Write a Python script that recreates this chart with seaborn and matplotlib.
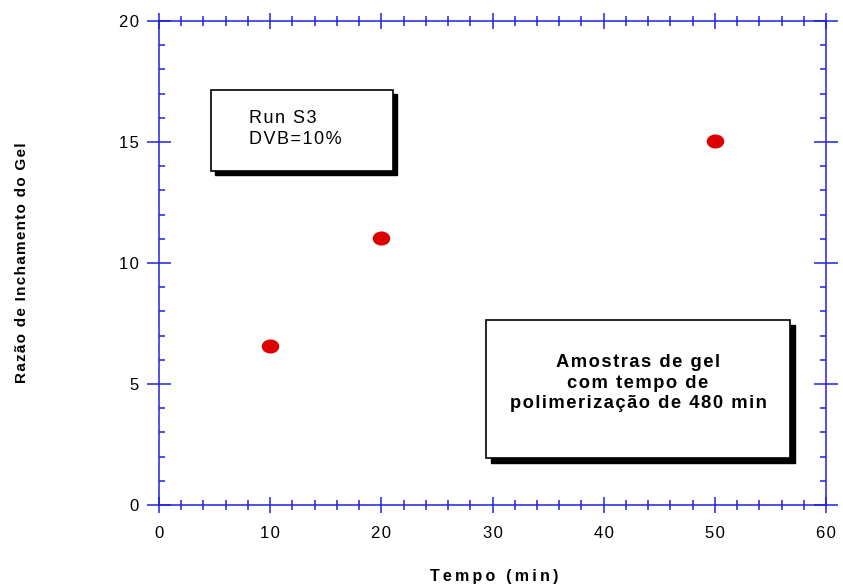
import numpy as np
import pandas as pd
import matplotlib
matplotlib.use("Agg")
import matplotlib.pyplot as plt
import seaborn as sns
from matplotlib.patches import Rectangle
from matplotlib.path import Path
from matplotlib.ticker import MultipleLocator

# Data
tempo = [10, 20, 50]
razao = [6.55, 11.05, 15.05]
x_ticks = [0, 10, 20, 30, 40, 50, 60]
y_ticks = [0, 5, 10, 15, 20]

sns.set_style("white")
plt.rcParams['font.family'] = ['Liberation Sans', 'DejaVu Sans']
plt.rcParams['text.color'] = 'black'
plt.rcParams['xtick.labelcolor'] = 'black'
plt.rcParams['ytick.labelcolor'] = 'black'

THIN = "\u2009"
HAIR = "\u200a"


def spaced(s, ch=HAIR):
    return "\n".join(ch.join(list(line)) for line in s.split("\n"))


fig = plt.figure(figsize=(8.43, 5.88), dpi=100)
ax = fig.add_axes([159/843, 1-505/588, (826-159)/843, (505-21)/588])

df = pd.DataFrame({"Tempo": tempo, "Razao": razao})
circ = Path.unit_circle()
ell = Path(circ.vertices * np.array([1.0, 0.8]), circ.codes)
sns.scatterplot(data=df, x="Tempo", y="Razao", ax=ax, marker=ell, s=160,
                color="#dd0000", edgecolor="#dd0000", linewidth=0, zorder=5, clip_on=False)

ax.set_xlim(0, 60)
ax.set_ylim(0, 20)
ax.set_xticks(x_ticks)
ax.set_yticks(y_ticks)
ax.xaxis.set_minor_locator(MultipleLocator(2))
ax.yaxis.set_minor_locator(MultipleLocator(1))

blue = "#2020e0"
for s in ax.spines.values():
    s.set_color(blue)
    s.set_linewidth(1.1)
    s.set_visible(True)

ax.tick_params(axis='x', which='major', direction='inout', length=12, width=1.1,
               color=blue, top=True, bottom=True, labelsize=12, pad=9,
               labelcolor='black')
ax.tick_params(axis='x', which='minor', direction='inout', length=7, width=1.1,
               color=blue, top=True, bottom=True)
ax.tick_params(axis='y', which='major', direction='inout', length=17, width=1.1,
               color=blue, left=True, right=True, labelsize=12, pad=6,
               labelcolor='black')
ax.tick_params(axis='y', which='minor', direction='in', length=4, width=1.1,
               color=blue, left=True, right=True)
ax.set_xticklabels([spaced(str(v)) for v in x_ticks])
ax.set_yticklabels([spaced(str(v)) for v in y_ticks])

ax.set_xlabel("")
ax.set_ylabel("")
fig.text(494/843, 1-577/588, spaced("Tempo (min)", THIN), ha='center', va='center',
         fontsize=11.5, fontweight='bold', color='black')
fig.text(22/843, 1-263/588, spaced("Razão de Inchamento do Gel", HAIR), ha='center',
         va='center', rotation=90, fontsize=11, fontweight='bold', color='black')


def box(x0, y0, x1, y1, sh, lw):
    W, H = 843, 588
    fig.patches.append(Rectangle(((x0+sh)/W, 1-(y1+sh)/H), (x1-x0)/W, (y1-y0)/H,
                                 transform=fig.transFigure, facecolor='black',
                                 edgecolor='black', zorder=10))
    fig.patches.append(Rectangle((x0/W, 1-y1/H), (x1-x0)/W, (y1-y0)/H,
                                 transform=fig.transFigure, facecolor='white',
                                 edgecolor='black', linewidth=lw, zorder=11))


box(211, 90, 393, 171, 4, 1.2)
box(486, 320, 790, 458, 5, 1.2)

fig.text(249/843, 1-129/588, spaced("Run S3\nDVB=10%"), ha='left', va='center',
         fontsize=13, linespacing=1.3, zorder=12, color='black')
fig.text(638/843, 1-383/588, spaced("Amostras de gel\ncom tempo de\npolimerização de 480 min"),
         ha='center', va='center', fontsize=13.2, fontweight='bold',
         linespacing=1.3, zorder=12, color='black')

fig.savefig("out.png", dpi=100)
